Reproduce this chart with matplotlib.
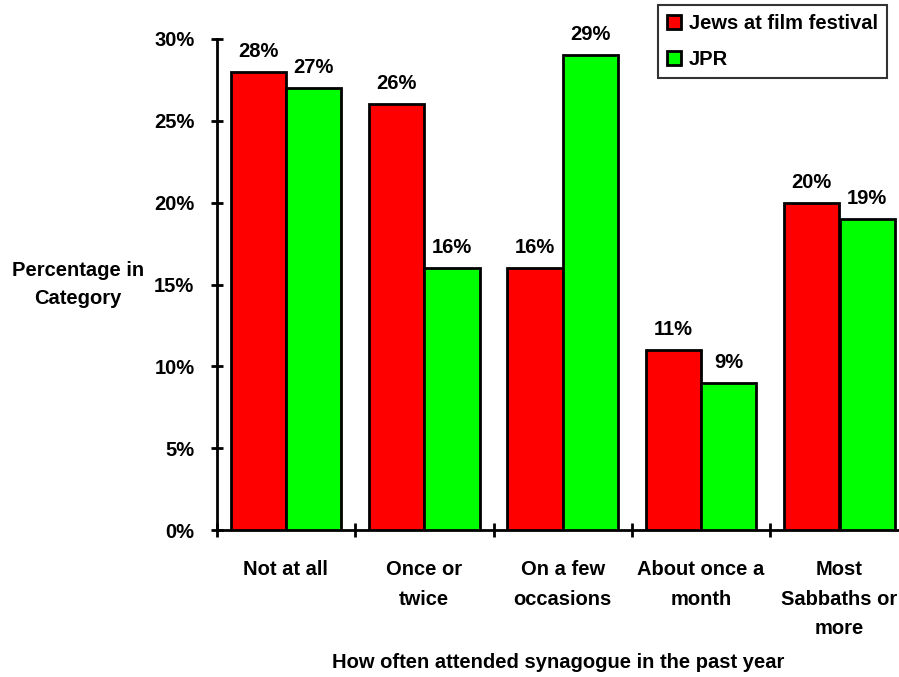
import matplotlib
matplotlib.use("Agg")
import matplotlib.pyplot as plt
import numpy as np
from matplotlib.ticker import MultipleLocator, FuncFormatter, FixedLocator

plt.rcParams['font.family'] = ['Liberation Sans', 'DejaVu Sans']
plt.rcParams['font.weight'] = 'bold'

categories = ["Not at all", "Once or\ntwice", "On a few\noccasions",
              "About once a\nmonth", "Most\nSabbaths or\nmore"]
film_festival = [28, 26, 16, 11, 20]
jpr = [27, 16, 29, 9, 19]
series_names = ["Jews at film festival", "JPR"]

FS = 14.5
fig = plt.figure(figsize=(8.99, 6.77), dpi=100)
ax = fig.add_axes([216.7 / 899, 1 - 530 / 677, 692 / 899, 491 / 677])

x = np.arange(len(categories))
w = 0.4
b1 = ax.bar(x - w / 2, film_festival, w, color="#FF0000", edgecolor="black",
            linewidth=2.0, label=series_names[0], zorder=3)
b2 = ax.bar(x + w / 2, jpr, w, color="#00FF00", edgecolor="black",
            linewidth=2.0, label=series_names[1], zorder=3)

for bars, vals in ((b1, film_festival), (b2, jpr)):
    for rect, v in zip(bars, vals):
        ax.annotate(f"{v}%", (rect.get_x() + rect.get_width() / 2, v),
                    xytext=(0, 8), textcoords="offset points",
                    ha="center", va="bottom", fontsize=FS, fontweight="bold")

ax.set_xlim(-0.5, 4.5)
ax.set_ylim(0, 30)
ax.yaxis.set_major_locator(MultipleLocator(5))
ax.yaxis.set_major_formatter(FuncFormatter(lambda v, p: f"{v:.0f}%"))
ax.xaxis.set_major_locator(FixedLocator(np.arange(-0.5, 5, 1.0)))
ax.xaxis.set_major_formatter(FuncFormatter(lambda v, p: ""))
ax.tick_params(axis="y", direction="inout", length=9, width=2.0,
               labelsize=FS, pad=11.5)
ax.tick_params(axis="x", direction="inout", length=10, width=2.0)

for i, c in enumerate(categories):
    ax.text(i, -0.062, c, transform=ax.get_xaxis_transform(),
            ha="center", va="top", fontsize=FS, fontweight="bold",
            linespacing=1.68)

for s in ("top", "right"):
    ax.spines[s].set_visible(False)
for s in ("left", "bottom"):
    ax.spines[s].set_linewidth(2.0)

fig.text(78 / 899, 1 - 285 / 677, "Percentage in\nCategory", ha="center",
         va="center", fontsize=FS, fontweight="bold", linespacing=1.6)
fig.text(558 / 899, 1 - 663 / 677, "How often attended synagogue in the past year",
         ha="center", va="center", fontsize=FS, fontweight="bold")

leg = fig.legend(handles=[b1, b2], loc="upper right",
                 bbox_to_anchor=(887 / 899, 1 - 5 / 677), fontsize=FS,
                 frameon=True, fancybox=False, handlelength=0.7,
                 handleheight=0.7, handletextpad=0.4, borderpad=0.45,
                 labelspacing=0.85, borderaxespad=0)
leg.get_frame().set_edgecolor("black")
leg.get_frame().set_linewidth(1.5)

fig.savefig("out.png", dpi=100)
